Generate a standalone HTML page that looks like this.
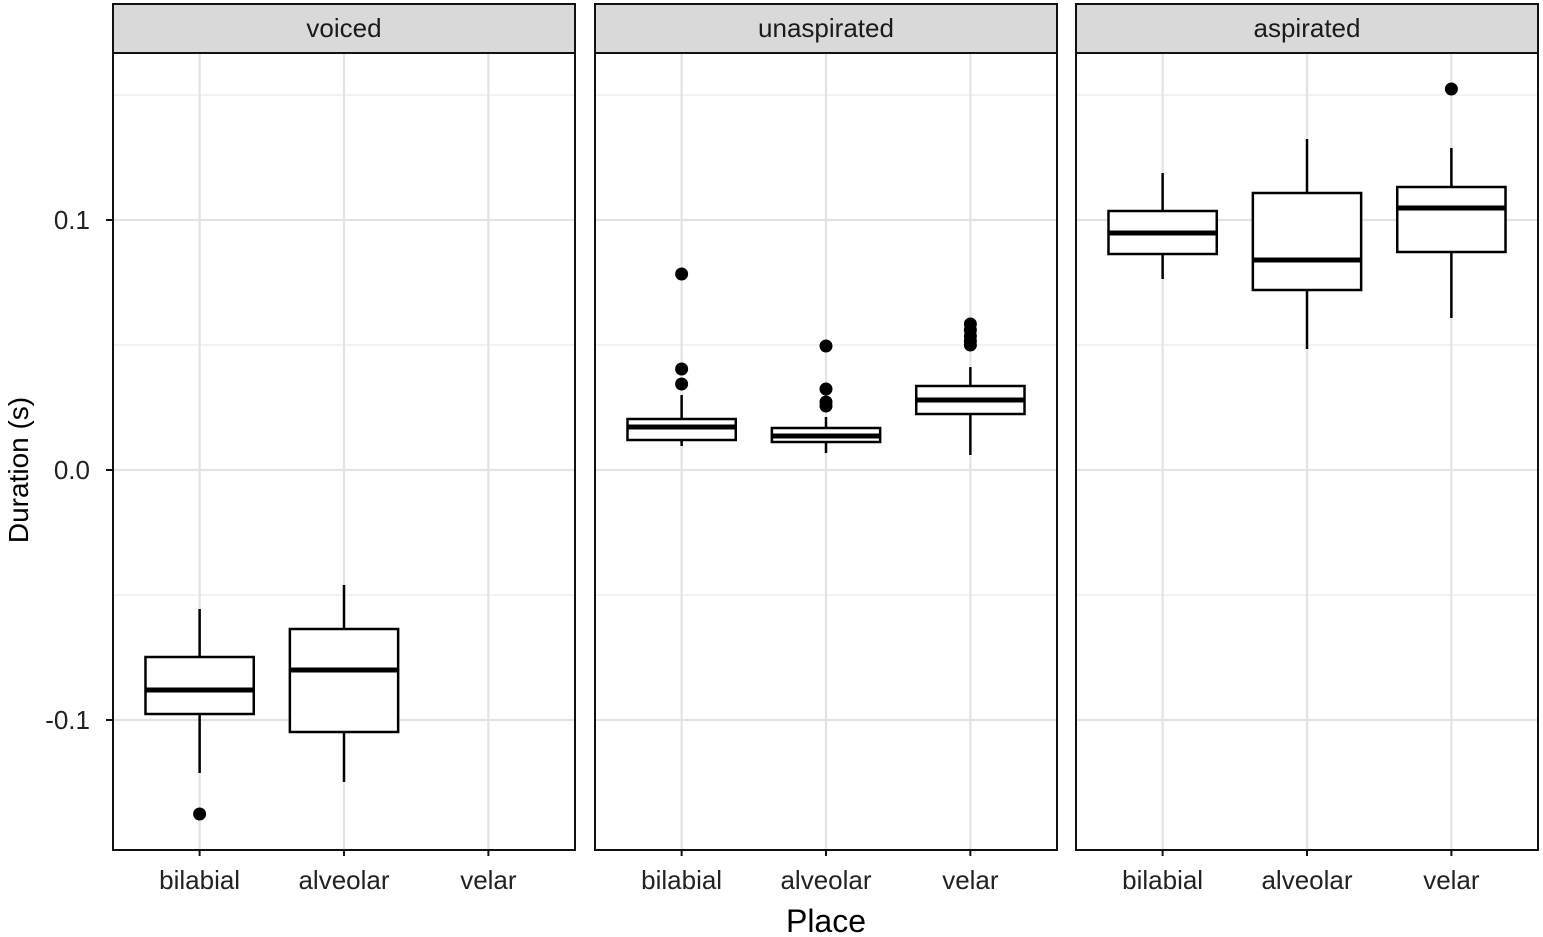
<!DOCTYPE html>
<html><head><meta charset="utf-8"><style>
html,body{margin:0;padding:0;background:#fff}
svg{display:block;font-family:"Liberation Sans",Arial,sans-serif}
</style></head><body>
<svg id="chart" width="1543" height="937" viewBox="0 0 1543 937" xmlns="http://www.w3.org/2000/svg"></svg>
<script>
const facets = ["voiced","unaspirated","aspirated"];
const categories = ["bilabial","alveolar","velar"];
const yTicks = [-0.1, 0.0, 0.1];
const yTickLabels = ["-0.1","0.0","0.1"];
const yMinor = [-0.05, 0.05, 0.15];
// each box: [facetIndex, catIndex, whiskerLow, q1, median, q3, whiskerHigh]
const boxes = [
  [0,0,-0.1212,-0.0976,-0.088,-0.0748,-0.0556],
  [0,1,-0.1248,-0.1048,-0.080,-0.0636,-0.046],
  [1,0,0.0096,0.012,0.0172,0.0204,0.030],
  [1,1,0.0068,0.0112,0.0136,0.0168,0.0212],
  [1,2,0.006,0.0224,0.028,0.0336,0.0412],
  [2,0,0.0764,0.0864,0.0948,0.1036,0.1188],
  [2,1,0.0484,0.072,0.084,0.1108,0.1324],
  [2,2,0.0608,0.0872,0.1048,0.1132,0.1288]
];
// outliers: [facetIndex, catIndex, value]
const outliers = [
  [0,0,-0.1376],
  [1,0,0.0784],[1,0,0.0404],[1,0,0.0344],
  [1,1,0.0496],[1,1,0.0324],[1,1,0.0272],[1,1,0.0256],
  [1,2,0.0584],[1,2,0.056],[1,2,0.0536],[1,2,0.0516],[1,2,0.050],
  [2,2,0.1524]
];

const svgEl = document.getElementById('chart');
const NS = "http://www.w3.org/2000/svg";
function mk(tag, attrs, parent){const e=document.createElementNS(NS,tag);for(const k in attrs)e.setAttribute(k,attrs[k]);(parent||svgEl).appendChild(e);return e;}
const panelX = [113, 595, 1076];
const panelW = 462;
const plotTop = 53, plotBottom = 850, stripTop = 4;
function yS(v){return 470 - v*2500;}
function xS(f,c){return panelX[f] + (c+1-0.4)*panelW/3.2;}
const boxW = 0.75*panelW/3.2;

facets.forEach((name,f)=>{
  const g = mk('g',{});
  
  
  const strip = mk('rect',{x:panelX[f],y:stripTop,width:panelW,height:plotTop-stripTop,fill:'#d9d9d9',stroke:'#111','stroke-width':2},g);
  
  
  const st = mk('text',{x:panelX[f]+panelW/2,y:37,'text-anchor':'middle','font-size':26,fill:'#1a1a1a'},g);
  st.textContent = name;
  
  
  yMinor.forEach(v=>{mk('line',{x1:panelX[f],x2:panelX[f]+panelW,y1:yS(v),y2:yS(v),stroke:'#ebebeb','stroke-width':1.2},g);});
  yTicks.forEach(v=>{mk('line',{x1:panelX[f],x2:panelX[f]+panelW,y1:yS(v),y2:yS(v),stroke:'#e3e3e3','stroke-width':2.2},g);});
  categories.forEach((c,ci)=>{
    mk('line',{x1:xS(f,ci),x2:xS(f,ci),y1:plotTop,y2:plotBottom,stroke:'#e3e3e3','stroke-width':2.2},g);
    mk('line',{x1:xS(f,ci),x2:xS(f,ci),y1:plotBottom,y2:plotBottom+6,stroke:'#111','stroke-width':2},g);
    const t = mk('text',{x:xS(f,ci),y:889,'text-anchor':'middle','font-size':26,fill:'#222'},g);
    t.textContent = c;
    
    
  });
  const border = mk('rect',{x:panelX[f],y:plotTop,width:panelW,height:plotBottom-plotTop,fill:'none',stroke:'#111','stroke-width':2},g);
  
  
});

boxes.forEach(b=>{
  const [f,c,lo,q1,med,q3,hi]=b, cx=xS(f,c);
  const g = mk('g',{});
  
  
  mk('line',{x1:cx,x2:cx,y1:yS(hi),y2:yS(q3),stroke:'#000','stroke-width':2.5},g);
  mk('line',{x1:cx,x2:cx,y1:yS(q1),y2:yS(lo),stroke:'#000','stroke-width':2.5},g);
  mk('rect',{x:cx-boxW/2,y:yS(q3),width:boxW,height:yS(q1)-yS(q3),fill:'#fff',stroke:'#000','stroke-width':2.5},g);
  mk('line',{x1:cx-boxW/2,x2:cx+boxW/2,y1:yS(med),y2:yS(med),stroke:'#000','stroke-width':5},g);
});
outliers.forEach(o=>{
  const c = mk('circle',{cx:xS(o[0],o[1]),cy:yS(o[2]),r:6.5,fill:'#000'});
  
  
});

yTicks.forEach((v,i)=>{
  mk('line',{x1:106,x2:113,y1:yS(v),y2:yS(v),stroke:'#111','stroke-width':2});
  const t = mk('text',{x:90,y:yS(v)+9,'text-anchor':'end','font-size':26,fill:'#222'});
  t.textContent = yTickLabels[i];
  
  
});
const yt = mk('text',{x:0,y:0,transform:'translate(28,470) rotate(-90)','text-anchor':'middle','font-size':28,fill:'#000'});
yt.textContent = 'Duration (s)';


const xt = mk('text',{x:826,y:932,'text-anchor':'middle','font-size':32,fill:'#000'});
xt.textContent = 'Place';


</script>
</body></html>
